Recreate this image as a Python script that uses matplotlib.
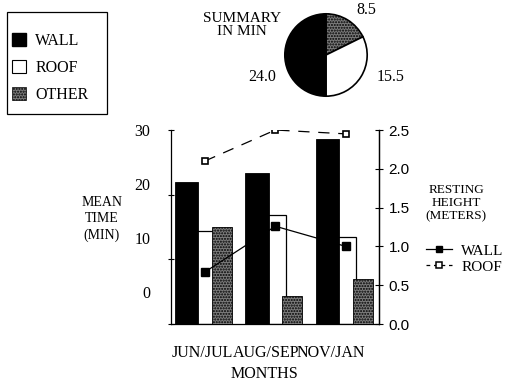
import numpy as np
import matplotlib
matplotlib.use("Agg")
import matplotlib.pyplot as plt
from matplotlib.patches import Patch, Rectangle
from matplotlib.lines import Line2D

plt.rcParams['font.family'] = ['Liberation Serif', 'DejaVu Serif']

months = ['JUN/JUL', 'AUG/SEP', 'NOV/JAN']
wall_time = [22.0, 23.4, 28.6]
roof_time = [14.4, 16.9, 13.5]
other_time = [15.0, 4.3, 7.0]
wall_height = [0.67, 1.26, 1.00]
roof_height = [2.10, 2.50, 2.45]
summary = [8.5, 15.5, 24.0]   # other, roof, wall
summary_labels = ['8.5', '15.5', '24.0']
left_ticks = [0, 10, 20, 30]
right_ticks = [0.0, 0.5, 1.0, 1.5, 2.0, 2.5]

W, H = 521, 381
fig = plt.figure(figsize=(W / 100, H / 100), dpi=100)

def fx(px):
    return px / W

def fy(py):
    return 1 - py / H

other_fc = '#7c7c7c'
hatch = '......'

# main axes
pos = [fx(171), fy(324), fx(379) - fx(171), fy(130) - fy(324)]
ax = fig.add_axes(pos)
x = np.arange(len(months))
ax.bar(x, roof_time, 0.29, color='white', edgecolor='black', lw=0.9, zorder=1)
ax.bar(x - 0.26, wall_time, 0.33, color='black', edgecolor='black', lw=0.6, zorder=2)
ax.bar(x + 0.24, other_time, 0.28, color=other_fc, edgecolor='black', lw=0.6,
       hatch=hatch, zorder=3)
ax.set_xlim(-0.48, 2.47)
ax.set_ylim(0, 30)
ax.set_yticks(left_ticks)
ax.set_yticklabels([])
ax.tick_params(axis='y', direction='inout', length=5, width=0.8)
ax.set_xticks(x * 0.915 - 0.04)
ax.set_xticklabels(months, fontsize=11.5)
ax.tick_params(axis='x', length=0, pad=15)
ax.spines['top'].set_visible(False)
for s in ['left', 'bottom', 'right']:
    ax.spines[s].set_linewidth(0.9)

# left tick labels (offset from the ticks as in the original)
axl = fig.add_axes(pos, frameon=False)
axl.set_ylim(-5.85, 29.63)
axl.set_yticks(left_ticks)
axl.set_yticklabels([str(t) for t in left_ticks], fontsize=11.5)
axl.tick_params(axis='y', length=0, pad=15)
axl.set_xticks([])
axl.patch.set_visible(False)

# right axis: resting height
ax2 = ax.twinx()
ax2.set_ylim(0, 2.5)
ax2.set_yticks(right_ticks)
ax2.set_yticklabels(['%.1f' % t for t in right_ticks], family='Liberation Sans',
                    fontsize=11)
ax2.tick_params(axis='y', direction='inout', length=6, width=0.8, pad=4)
for s in ['top', 'left', 'bottom']:
    ax2.spines[s].set_visible(False)
ax2.spines['right'].set_linewidth(0.9)
ax2.plot(x, wall_height, '-', color='black', lw=0.9, marker='s', ms=5.5,
         mfc='black', mec='black')
ax2.plot(x, roof_height, color='black', lw=0.9, ls=(0, (9, 7)), marker='s', ms=5,
         mfc='white', mec='black', mew=1.2)

# pie
axp = fig.add_axes([fx(284), fy(97), fx(84), fy(13) - fy(97)])
axp.pie(summary, colors=[other_fc, 'white', 'black'], startangle=90,
        counterclock=False, wedgeprops=dict(edgecolor='black', linewidth=1.2),
        hatch=[hatch, '', ''])
axp.set_xlim(-1.02, 1.02)
axp.set_ylim(-1.02, 1.02)
axp.set_aspect('equal')
for lab, (px, py) in zip(summary_labels, [(366, 10), (391, 77), (262, 77)]):
    fig.text(fx(px), fy(py), lab, ha='center', va='center', fontsize=11.5)
fig.text(fx(242), fy(25), 'SUMMARY\nIN MIN', ha='center', va='center',
         fontsize=11, linespacing=1.05)

# left legend
fig.add_artist(Rectangle((fx(7), fy(114)), fx(100), fy(12) - fy(114),
                         transform=fig.transFigure, fill=False, ec='black', lw=0.9))
handles = [Patch(fc='black', ec='black'),
           Patch(fc='white', ec='black', lw=0.8),
           Patch(fc=other_fc, ec='black', hatch=hatch, lw=0.5)]
fig.legend(handles, ['WALL', 'ROOF', 'OTHER'], loc='upper left',
           bbox_to_anchor=(fx(12), fy(33)), frameon=False, fontsize=11.5,
           handlelength=0.85, handleheight=0.85, handletextpad=0.6,
           labelspacing=0.7, borderpad=0, borderaxespad=0)

# right legend
lh = [Line2D([], [], color='black', lw=0.9, marker='s', ms=5),
      Line2D([], [], color='black', lw=0.9, ls=(0, (3, 3)), marker='s', ms=4.5,
             mfc='white', mew=1.1)]
fig.legend(lh, ['WALL', 'ROOF'], loc='upper left', bbox_to_anchor=(fx(426), fy(244)),
           frameon=False, fontsize=11, handlelength=1.7, handletextpad=0.6,
           labelspacing=0.15, borderpad=0, borderaxespad=0)

fig.text(fx(102), fy(219), 'MEAN\nTIME\n(MIN)', ha='center', va='center',
         fontsize=10, linespacing=1.3)
fig.text(fx(456), fy(203), 'RESTING\nHEIGHT\n(METERS)', ha='center', va='center',
         fontsize=9.5, linespacing=1.15)
fig.text(fx(264), fy(374), 'MONTHS', ha='center', va='center', fontsize=11.5)

fig.savefig('out.png', dpi=100)
